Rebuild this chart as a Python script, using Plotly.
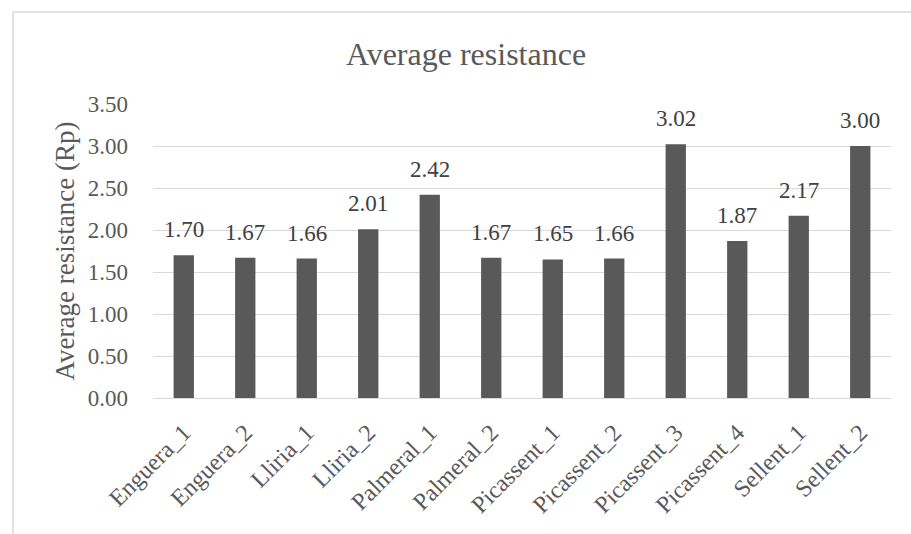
import plotly.graph_objects as go

sites = ["Enguera_1", "Enguera_2", "Lliria_1", "Lliria_2", "Palmeral_1", "Palmeral_2",
         "Picassent_1", "Picassent_2", "Picassent_3", "Picassent_4", "Sellent_1", "Sellent_2"]
resistance = [1.70, 1.67, 1.66, 2.01, 2.42, 1.67, 1.65, 1.66, 3.02, 1.87, 2.17, 3.00]
y_ticks = [0.0, 0.5, 1.0, 1.5, 2.0, 2.5, 3.0, 3.5]

FONT = "Liberation Serif"
TEXT = "#595959"
GRID = "#d9d9d9"

fig = go.Figure(go.Bar(
    x=sites,
    y=resistance,
    marker=dict(color="#595959", line=dict(width=0)),
    width=0.33,
))

# value labels above each bar
for site, v in zip(sites, resistance):
    fig.add_annotation(x=site, y=v, text=f"{v:.2f}", showarrow=False,
                       yanchor="bottom", yshift=11,
                       font=dict(family=FONT, size=23, color="#404040"))

# chart frame (left and top edges)
fig.add_shape(type="rect", xref="paper", yref="paper",
              x0=-0.1897, x1=1.2, y0=-1.0, y1=1.3129,
              line=dict(color=GRID, width=1.5), fillcolor="rgba(0,0,0,0)", layer="below")

fig.update_layout(
    width=911, height=534,
    margin=dict(l=153, r=20, t=104, b=136),
    paper_bgcolor="white", plot_bgcolor="white",
    font=dict(family=FONT, color=TEXT),
    title=dict(text="Average resistance", x=466 / 911, xanchor="center",
               y=1 - 54 / 534, yanchor="middle",
               font=dict(family=FONT, size=32, color=TEXT)),
    showlegend=False,
)
fig.update_yaxes(
    range=[0, 3.5], tickvals=y_ticks, ticktext=[f"{v:.2f}" for v in y_ticks],
    showgrid=True, gridcolor=GRID, gridwidth=1, zeroline=False,
    tickfont=dict(family=FONT, size=23, color=TEXT),
    ticklabelstandoff=24,
    title=dict(text="Average resistance (Rp)", font=dict(family=FONT, size=27, color=TEXT), standoff=5),
)
fig.update_xaxes(
    tickangle=-45, showline=True, linecolor=GRID, linewidth=1,
    tickfont=dict(family=FONT, size=24, color=TEXT),
    ticklabelstandoff=10,
)

fig.write_html("out.html")
